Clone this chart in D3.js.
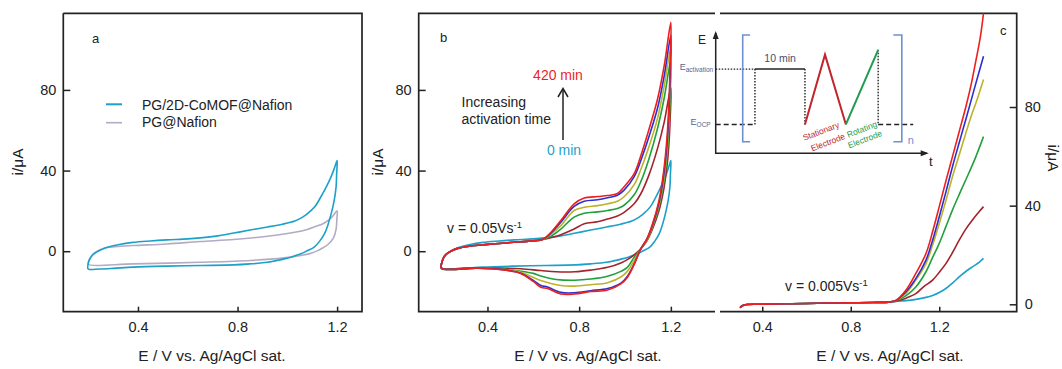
<!DOCTYPE html>
<html>
<head>
<meta charset="utf-8">
<script src="https://cdn.jsdelivr.net/npm/d3@7"></script>
<style>
  body { margin: 0; background: #fff; }
  svg text { font-family: "Liberation Sans", Arial, sans-serif; fill: #222; }
</style>
</head>
<body>
<svg id="chart" width="1062" height="369"></svg>
<script>
// tick values shared by the three panels
var xTicks = [0.4, 0.8, 1.2];
var yTicks = [0, 40, 80];

// panel a: cyclic voltammograms [E / V, i / uA], anodic scan then reverse scan
var cvCoMof = [
  [0.2, -6.3], [0.205, -4.2], [0.215, -2.2], [0.226, -1.0], [0.25, 0.6], [0.273, 1.8], [0.32, 3.2],
  [0.38, 4.4], [0.45, 5.1], [0.516, 5.6], [0.6, 6.1], [0.65, 6.6], [0.72, 7.6], [0.785, 9], [0.85, 10.5],
  [0.92, 12], [0.98, 13.4], [1.03, 15], [1.06, 16.8], [1.08, 18.5], [1.11, 22], [1.135, 27], [1.155, 31.5],
  [1.176, 37], [1.19, 41.5], [1.2, 45],
  [1.198, 38], [1.196, 32], [1.188, 25], [1.176, 18.5], [1.163, 13], [1.149, 8.6], [1.13, 5], [1.108, 2],
  [1.08, 0.2], [1.055, -1.3], [1.02, -2.7], [0.987, -3.8], [0.95, -4.8], [0.92, -5.5], [0.85, -6.3],
  [0.785, -6.8], [0.65, -7.1], [0.516, -7.4], [0.38, -7.9], [0.3, -8.5], [0.246, -8.8], [0.2, -8.8]
];
var cvNafion = [
  [0.2, -5.5], [0.21, -3], [0.226, -0.8], [0.25, 0.8], [0.273, 1.7], [0.32, 2.3], [0.38, 2.8], [0.516, 3.6],
  [0.65, 4.8], [0.785, 5.8], [0.92, 7.4], [1.03, 9.4], [1.08, 10.8], [1.108, 12], [1.149, 14], [1.18, 17], [1.2, 20],
  [1.199, 16], [1.196, 11], [1.185, 6.5], [1.162, 3.2], [1.14, 1.5], [1.122, 0.3], [1.09, -1.2], [1.055, -2.1],
  [0.987, -3.3], [0.852, -4.6], [0.65, -5.5], [0.38, -6.3], [0.2, -6.6]
];

// panel b: activated electrodes, all anodic scans overlap up to the crossing near 0.64 V
var cvStart = [
  [0.2, -6], [0.207, -3.5], [0.22, -1.5], [0.24, 0], [0.27, 1.4], [0.32, 2.5], [0.4, 3.4], [0.5, 4.3], [0.58, 5], [0.64, 5.8]
];
var cvDarkRed = cvStart.concat([
  [0.68, 6.8], [0.72, 8.2], [0.778, 11], [0.822, 13.6], [0.88, 14.6], [0.924, 16], [0.967, 17.5], [0.996, 19.3],
  [1.04, 23.5], [1.069, 28.5], [1.105, 38], [1.142, 51], [1.171, 64], [1.2, 81],
  [1.197, 66], [1.192, 54], [1.183, 42], [1.168, 30], [1.148, 20], [1.12, 11], [1.095, 5], [1.069, 1.2],
  [1.04, -1.8], [1.01, -4.2], [0.982, -5.8], [0.924, -8], [0.85, -9.4], [0.78, -10.2], [0.7, -10.2],
  [0.633, -9.6], [0.545, -8.7], [0.45, -8.4], [0.3, -8.4], [0.2, -8.4]
]);
var cvGreen = cvStart.concat([
  [0.677, 7.5], [0.72, 11], [0.778, 16.9], [0.822, 18.8], [0.88, 19.5], [0.924, 20.2], [0.967, 21.2], [0.996, 22.8],
  [1.04, 28], [1.069, 34.5], [1.105, 46], [1.142, 61], [1.171, 76], [1.2, 95],
  [1.197, 78], [1.192, 62], [1.183, 47], [1.168, 33], [1.148, 22], [1.12, 12], [1.095, 5.5], [1.069, 1.2],
  [1.04, -3], [1.01, -8], [0.982, -10], [0.924, -12.4], [0.85, -13.8], [0.78, -14.4], [0.7, -14],
  [0.633, -12.3], [0.6, -11], [0.545, -9.9], [0.45, -8.7], [0.35, -8.4], [0.2, -8.5]
]);
var cvOlive = cvStart.concat([
  [0.677, 8.5], [0.72, 12.7], [0.778, 20.2], [0.822, 21.8], [0.88, 22.6], [0.924, 23.5], [0.967, 24.8], [0.996, 27],
  [1.04, 33], [1.069, 40.5], [1.105, 52], [1.142, 66], [1.171, 82], [1.2, 101],
  [1.197, 83], [1.192, 66], [1.183, 50], [1.168, 35], [1.148, 23], [1.12, 12.5], [1.095, 5.5], [1.069, 1.2],
  [1.04, -4.6], [1.01, -10], [0.982, -12.8], [0.924, -15.6], [0.85, -16.6], [0.78, -17.3], [0.72, -17],
  [0.633, -14.5], [0.6, -13], [0.545, -10.4], [0.45, -8.8], [0.35, -8.4], [0.2, -8.5]
]);
var cvBlue = cvStart.concat([
  [0.677, 9], [0.72, 14.4], [0.778, 22.2], [0.822, 24.8], [0.88, 25.5], [0.924, 26.5], [0.967, 27.8], [0.996, 30.3],
  [1.04, 37], [1.069, 45], [1.105, 57], [1.142, 71], [1.171, 87], [1.2, 107],
  [1.197, 88], [1.192, 70], [1.183, 53], [1.168, 37], [1.148, 24], [1.12, 13], [1.095, 6], [1.069, 1.2],
  [1.04, -6.3], [1.01, -12.5], [0.982, -15.8], [0.924, -18.5], [0.85, -19.6], [0.78, -20.6], [0.72, -20.4],
  [0.662, -17.8], [0.633, -17], [0.6, -14.5], [0.545, -10.9], [0.45, -8.9], [0.35, -8.4], [0.2, -8.5]
]);
var cvRed = cvStart.concat([
  [0.677, 9.4], [0.72, 15.2], [0.778, 23.5], [0.822, 26.4], [0.88, 27.1], [0.924, 27.6], [0.967, 28.6], [0.996, 32],
  [1.04, 38.5], [1.069, 47.4], [1.105, 60.6], [1.142, 75.5], [1.171, 92], [1.2, 113.5],
  [1.197, 94], [1.192, 74], [1.183, 56], [1.168, 39], [1.148, 25], [1.12, 13.5], [1.095, 6], [1.069, 1.2],
  [1.04, -6.5], [1.01, -13], [0.982, -16.2], [0.924, -19.2], [0.85, -20], [0.78, -21.2], [0.72, -21.2],
  [0.662, -18.5], [0.633, -17.9], [0.6, -15], [0.545, -11], [0.45, -9], [0.35, -8.4], [0.2, -8.5]
]);

// panel c: linear sweeps at 0.005 V/s, flat baseline shared by all curves
var lsvBase = [
  [0.3, -1.4], [0.31, -0.6], [0.33, -0.1], [0.4, 0], [0.5, 0.2], [0.6, 0.35], [0.7, 0.5], [0.8, 0.6], [0.9, 0.75], [0.97, 0.9]
];
var lsvCyan = lsvBase.concat([[1.004, 1.2], [1.05, 1.5], [1.094, 2], [1.14, 2.8], [1.17, 3.6], [1.2, 4.8], [1.23, 6.4], [1.26, 8.6], [1.29, 11.1], [1.32, 13.3], [1.35, 15.2], [1.38, 17], [1.4, 18.6]]);
var lsvDarkRed = lsvBase.concat([[1.004, 1.3], [1.05, 2.5], [1.094, 4.3], [1.13, 7.2], [1.17, 9.8], [1.2, 13], [1.23, 16.5], [1.26, 21], [1.29, 26], [1.32, 30.5], [1.35, 34.2], [1.38, 37.5], [1.4, 39.6]]);
var lsvGreen = lsvBase.concat([[1.004, 1.4], [1.05, 3.5], [1.094, 7], [1.14, 13.2], [1.17, 19], [1.2, 24.7], [1.23, 31.5], [1.26, 38.3], [1.29, 44.5], [1.32, 50.5], [1.345, 55.5], [1.366, 60], [1.4, 68]]);
var lsvOlive = lsvBase.concat([[1.004, 1.5], [1.05, 4.5], [1.094, 9.8], [1.14, 16.5], [1.17, 24], [1.2, 32.8], [1.23, 42], [1.26, 51.8], [1.29, 60.5], [1.32, 69.4], [1.345, 76.5], [1.366, 81.7], [1.4, 91.2]]);
var lsvBlue = lsvBase.concat([[1.004, 1.6], [1.049, 5], [1.094, 10.4], [1.14, 17.9], [1.17, 26], [1.2, 35.5], [1.23, 45.5], [1.26, 55.9], [1.29, 65.5], [1.32, 74.9], [1.345, 83], [1.366, 89.8], [1.4, 100.6]]);
var lsvRed = lsvBase.concat([[1.004, 1.6], [1.049, 5.7], [1.094, 12.5], [1.14, 20.6], [1.17, 29.5], [1.2, 39.6], [1.23, 50], [1.26, 60], [1.29, 70], [1.32, 80], [1.345, 89.5], [1.366, 99], [1.385, 108], [1.4, 118]]);

// colours: 0 min ... 420 min
var seriesColors = ['#1ca1c9', '#a3242a', '#21a03c', '#bdb22a', '#2b2fcf', '#ee1f1f'];
var nafionColor = '#b3abc4';

// inset: potential programme in schematic units [t, E]
var eOcp = 24, eAct = 70;
var ocpBefore = [[0, eOcp], [18.6, eOcp]];
var actGuide = [[0, eAct], [18.6, eAct]];
var stepUp = [[18.6, eOcp], [18.6, eAct]];
var holdAct = [[18.6, eAct], [42.3, eAct]];
var stepDown = [[42.3, eAct], [42.3, eOcp]];
var stationaryScan = [[42.3, eOcp], [51.8, 82], [61.7, eOcp]];
var rotatingScan = [[61.7, eOcp], [77, 86]];
var stepBack = [[77, 86], [77, eOcp]];
var ocpAfter = [[77, eOcp], [93.6, eOcp]];

var svg = d3.select('#chart');
var ink = '#222';

// scales for each panel
var yAB = d3.scaleLinear().domain([-30, 118]).range([311.7, 13.3]);
var xA = d3.scaleLinear().domain([0.1, 1.3]).range([63.3, 362]);
var xB = d3.scaleLinear().domain([0.1, 1.4]).range([418.7, 716.7]);
var xC = d3.scaleLinear().domain([0.2, 1.55]).range([718, 1016.7]);
var yC = d3.scaleLinear().domain([-3, 118]).range([311.7, 13.3]);

function lineFor(x, y, closed) {
  return function(pts) {
    var p = closed ? pts.concat([pts[0]]) : pts;
    return d3.line()
      .x(function(d) { return x(d[0]); })
      .y(function(d) { return y(d[1]); })
      .curve(d3.curveCatmullRom.alpha(0.5))(p);
  };
}

function styleAxis(g) {
  g.select('.domain').remove();
  g.selectAll('line').attr('stroke', ink).attr('stroke-width', 1.5);
  g.selectAll('text').attr('font-size', 14.5).attr('font-family', '"Liberation Sans", Arial, sans-serif').attr('fill', ink);
}

function xAxis(x) {
  svg.append('g')
    .attr('transform', 'translate(0,311.7)')
    .call(d3.axisBottom(x).tickValues(xTicks).tickFormat(d3.format('.1f')).tickSize(-5).tickPadding(10))
    .call(styleAxis);
}

function frame(pts) {
  svg.append('path')
    .attr('d', d3.line()(pts))
    .attr('fill', 'none').attr('stroke', ink).attr('stroke-width', 1.7);
}

function curve(path, d, color, w) {
  svg.append('path')
    .attr('d', path(d))
    .attr('fill', 'none')
    .attr('stroke', color)
    .attr('stroke-width', w || 1.6)
    .attr('stroke-linejoin', 'round');
}

// ---------- panel a ----------
xAxis(xA);
svg.append('g').attr('transform', 'translate(63.3,0)')
  .call(d3.axisLeft(yAB).tickValues(yTicks).tickSize(-7).tickPadding(7))
  .call(styleAxis);
frame([[63.3, 13.3], [362, 13.3], [362, 311.7], [63.3, 311.7], [63.3, 13.3]]);

var pathA = lineFor(xA, yAB, true);
curve(pathA, cvNafion, nafionColor);
curve(pathA, cvCoMof, seriesColors[0]);

// legend
svg.append('line').attr('x1', 106).attr('x2', 122).attr('y1', 104.3).attr('y2', 104.3)
  .attr('stroke', seriesColors[0]).attr('stroke-width', 2);
svg.append('line').attr('x1', 106).attr('x2', 122).attr('y1', 122.7).attr('y2', 122.7)
  .attr('stroke', nafionColor).attr('stroke-width', 1.6);
svg.append('text').attr('x', 142).attr('y', 110).attr('font-size', 14).text('PG/2D-CoMOF@Nafion');
svg.append('text').attr('x', 142).attr('y', 127).attr('font-size', 14).text('PG@Nafion');
svg.append('text').attr('x', 92).attr('y', 42.5).attr('font-size', 13).text('a');

// ---------- panel b ----------
xAxis(xB);
svg.append('g').attr('transform', 'translate(418.7,0)')
  .call(d3.axisLeft(yAB).tickValues(yTicks).tickSize(-7).tickPadding(7))
  .call(styleAxis);
frame([[715, 13.3], [418.7, 13.3], [418.7, 311.7], [715, 311.7]]);

var pathB = lineFor(xB, yAB, true);
var cvSeries = [cvCoMof, cvDarkRed, cvGreen, cvOlive, cvBlue, cvRed];
cvSeries.forEach(function(d, i) { curve(pathB, d, seriesColors[i]); });

svg.append('text').attr('x', 440).attr('y', 41.5).attr('font-size', 13).text('b');
svg.append('text').attr('x', 558).attr('y', 80).attr('text-anchor', 'middle').attr('font-size', 14)
  .style('fill', seriesColors[5]).text('420 min');
svg.append('text').attr('x', 564).attr('y', 155).attr('text-anchor', 'middle').attr('font-size', 14)
  .style('fill', seriesColors[0]).text('0 min');
svg.append('text').attr('x', 461.5).attr('y', 106.5).attr('font-size', 14).text('Increasing');
svg.append('text').attr('x', 461.5).attr('y', 124).attr('font-size', 14).text('activation time');
svg.append('line').attr('x1', 563).attr('x2', 563).attr('y1', 140).attr('y2', 89)
  .attr('stroke', ink).attr('stroke-width', 1.5);
svg.append('path').attr('d', 'M558,97L563,88.5L568,97').attr('fill', 'none').attr('stroke', ink).attr('stroke-width', 1.5);
var vB = svg.append('text').attr('x', 447).attr('y', 232.5).attr('font-size', 14).text('v = 0.05Vs');
vB.append('tspan').attr('dy', -5).attr('font-size', 9.5).text('-1');

// ---------- panel c ----------
xAxis(xC);
svg.append('g').attr('transform', 'translate(1016.7,0)')
  .call(d3.axisRight(yC).tickValues(yTicks).tickSize(-7).tickPadding(8))
  .call(styleAxis);
frame([[720, 13.3], [1016.7, 13.3], [1016.7, 311.7], [720, 311.7]]);

svg.append('clipPath').attr('id', 'clipC').append('rect')
  .attr('x', 718).attr('y', 13.3).attr('width', 298.7).attr('height', 298.4);
var pathC = lineFor(xC, yC, false);
var lsvSeries = [lsvCyan, lsvDarkRed, lsvGreen, lsvOlive, lsvBlue, lsvRed];
lsvSeries.forEach(function(d, i) {
  svg.append('path')
    .attr('d', pathC(d))
    .attr('clip-path', 'url(#clipC)')
    .attr('fill', 'none')
    .attr('stroke', seriesColors[i])
    .attr('stroke-width', 1.6);
});
svg.append('text').attr('x', 1000).attr('y', 35).attr('font-size', 13).text('c');
var vC = svg.append('text').attr('x', 785).attr('y', 291).attr('font-size', 14).text('v = 0.005Vs');
vC.append('tspan').attr('dy', -5).attr('font-size', 9.5).text('-1');

// axis titles
[212, 588, 890].forEach(function(cx) {
  svg.append('text').attr('x', cx).attr('y', 361).attr('text-anchor', 'middle').attr('font-size', 15.5)
    .text('E / V vs. Ag/AgCl sat.');
});
svg.append('text').attr('transform', 'translate(23,162) rotate(-90)').attr('text-anchor', 'middle')
  .attr('font-size', 15.5).text('i/μA');
svg.append('text').attr('transform', 'translate(383,162) rotate(-90)').attr('text-anchor', 'middle')
  .attr('font-size', 15.5).text('i/μA');
svg.append('text').attr('transform', 'translate(1048,158) rotate(90)').attr('text-anchor', 'middle')
  .attr('font-size', 15.5).text('i/μA');

// ---------- inset: activation programme ----------
var tI = d3.scaleLinear().domain([0, 100]).range([715.7, 926.7]);
var eI = d3.scaleLinear().domain([0, 100]).range([153.3, 33]);
var pathI = d3.line().x(function(d) { return tI(d[0]); }).y(function(d) { return eI(d[1]); });
var inset = svg.append('g');
var insetFont = '"Open Sans", "Noto Sans", sans-serif';

function insetLine(d, color, width, dash) {
  inset.append('path').attr('d', pathI(d)).attr('fill', 'none')
    .attr('stroke', color).attr('stroke-width', width)
    .attr('stroke-dasharray', dash || null);
}

// axes with arrow heads
insetLine([[0, 100], [0, 0], [100, 0]], ink, 1.5);
inset.append('path').attr('d', 'M' + (tI(0) - 3) + ',' + (eI(100) + 6) + 'L' + tI(0) + ',' + (eI(100) - 2) + 'L' + (tI(0) + 3) + ',' + (eI(100) + 6) + 'Z').attr('fill', ink);
inset.append('path').attr('d', 'M' + (tI(100) - 6) + ',' + (eI(0) - 3) + 'L' + (tI(100) + 2) + ',' + eI(0) + 'L' + (tI(100) - 6) + ',' + (eI(0) + 3) + 'Z').attr('fill', ink);

insetLine(actGuide, ink, 1.4, '1.5,1.5');
insetLine(stepUp, ink, 1.4, '1.5,1.5');
insetLine(stepDown, ink, 1.4, '1.5,1.5');
insetLine(stepBack, ink, 1.4, '1.5,1.5');
insetLine(ocpBefore, ink, 1.4, '5,3');
insetLine(ocpAfter, ink, 1.4, '5,3');
insetLine(holdAct, ink, 1.5);
insetLine(stationaryScan, '#c0262c', 2);
insetLine(rotatingScan, '#1f9c4f', 2);

// brackets
var bracketColor = '#6e90d2';
insetLine([[16.3, 98.3], [12.8, 98.3], [12.8, 9.6], [16.3, 9.6]], bracketColor, 1.6);
insetLine([[84.2, 98.3], [88.2, 98.3], [88.2, 9.6], [84.2, 9.6]], bracketColor, 1.6);
inset.append('text').attr('x', tI(91)).attr('y', eI(8)).attr('font-size', 11)
  .attr('font-family', insetFont).style('fill', bracketColor).text('n');

inset.append('text').attr('x', 698).attr('y', 44).attr('font-size', 12).attr('font-family', insetFont).text('E');
inset.append('text').attr('x', 929).attr('y', 166).attr('font-size', 13).attr('font-family', insetFont).text('t');
inset.append('text').attr('x', tI(30.5)).attr('y', eI(76)).attr('text-anchor', 'middle').attr('font-size', 10.5)
  .attr('font-family', insetFont).style('fill', '#3f4f74').text('10 min');

var eActLbl = inset.append('text').attr('x', tI(0) - 2.5).attr('y', eI(eAct) + 1).attr('text-anchor', 'end')
  .attr('font-size', 9).attr('font-family', insetFont).style('fill', '#55658f');
eActLbl.append('tspan').text('E');
eActLbl.append('tspan').attr('dy', 2).attr('font-size', 6.5).text('activation');
var eOcpLbl = inset.append('text').attr('x', tI(0) - 5).attr('y', eI(eOcp) + 1).attr('text-anchor', 'end')
  .attr('font-size', 9).attr('font-family', insetFont).style('fill', '#55658f');
eOcpLbl.append('tspan').text('E');
eOcpLbl.append('tspan').attr('dy', 2).attr('font-size', 6.5).text('OCP');

function tilted(txt, cx, cy, color) {
  inset.append('text').attr('transform', 'translate(' + cx + ',' + cy + ') rotate(-21)')
    .attr('text-anchor', 'middle').attr('font-size', 8.5).attr('font-family', insetFont)
    .style('fill', color).text(txt);
}
tilted('Stationary', 822, 134, '#c0262c');
tilted('Electrode', 829, 145, '#c0262c');
tilted('Rotating', 863, 132, '#1f9c4f');
tilted('Electrode', 866, 142, '#1f9c4f');
</script>
</body>
</html>
